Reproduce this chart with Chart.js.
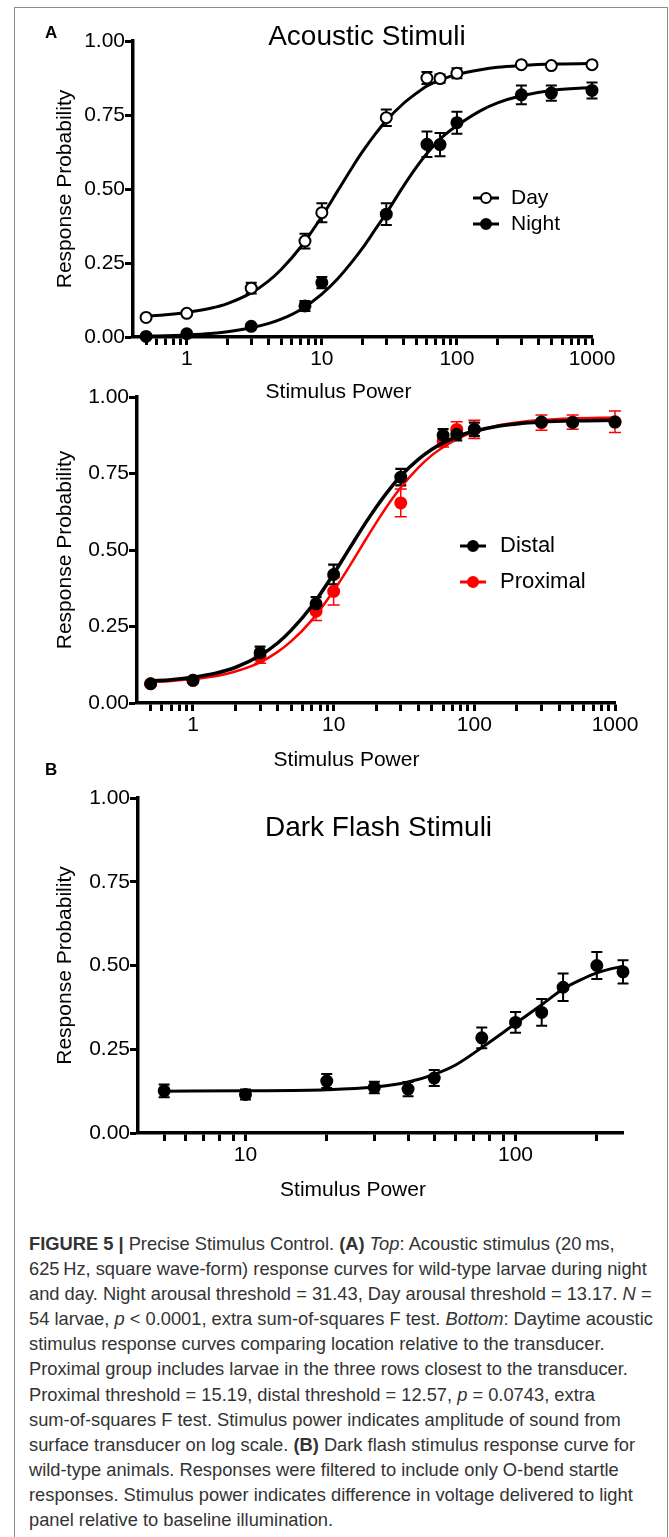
<!DOCTYPE html>
<html>
<head>
<meta charset="utf-8">
<script src="https://cdn.jsdelivr.net/npm/chart.js@4.4.0/dist/chart.umd.min.js"></script>
<style>
html, body { margin: 0; padding: 0; background: #fff; }
body { width: 669px; height: 1537px; position: relative; overflow: hidden; font-family: "Liberation Sans", Arial, Helvetica, sans-serif; }
.frame { position: absolute; left: 14px; top: 7px; width: 652px; height: 1580px; border: 1px solid #8c8c8c; }
canvas { position: absolute; left: 0; }
.panel { position: absolute; font-weight: bold; font-size: 17px; line-height: 17px; color: #000; }
#caption { position: absolute; left: 29px; top: 1231px; }
#caption div { white-space: nowrap; height: 25.1px; line-height: 25.1px; font-size: 18.5px; color: #333; transform-origin: 0 50%; }
</style>
</head>
<body>
<div class="frame"></div>
<canvas id="c1" width="669" height="405" style="top:0px;width:669px;height:405px"></canvas>
<canvas id="c2" width="669" height="411" style="top:360px;width:669px;height:411px"></canvas>
<canvas id="c3" width="669" height="441" style="top:760px;width:669px;height:441px"></canvas>
<div class="panel" style="left:45px;top:24px">A</div>
<div class="panel" style="left:45px;top:761px">B</div>
<div id="caption">
<div><b>FIGURE 5 |</b> Precise Stimulus Control. <b>(A)</b> <i>Top</i>: Acoustic stimulus (20&#8201;ms,</div>
<div>625&#8201;Hz, square wave-form) response curves for wild-type larvae during night</div>
<div>and day. Night arousal threshold = 31.43, Day arousal threshold = 13.17. <i>N</i> =</div>
<div id="widest">54 larvae, <i>p</i> &lt; 0.0001, extra sum-of-squares F test. <i>Bottom</i>: Daytime acoustic</div>
<div>stimulus response curves comparing location relative to the transducer.</div>
<div>Proximal group includes larvae in the three rows closest to the transducer.</div>
<div>Proximal threshold = 15.19, distal threshold = 12.57, <i>p</i> = 0.0743, extra</div>
<div>sum-of-squares F test. Stimulus power indicates amplitude of sound from</div>
<div>surface transducer on log scale. <b>(B)</b> Dark flash stimulus response curve for</div>
<div>wild-type animals. Responses were filtered to include only O-bend startle</div>
<div>responses. Stimulus power indicates difference in voltage delivered to light</div>
<div>panel relative to baseline illumination.</div>
</div>
<script>
// ---------- DATA ----------
// Panel A top: acoustic stimuli, day vs night
const acousticPower = [0.5, 1, 3, 7.5, 10, 30, 60, 75, 100, 300, 500, 1000];
const dayResponse   = [0.066, 0.080, 0.165, 0.324, 0.420, 0.741, 0.875, 0.873, 0.891, 0.920, 0.917, 0.920];
const dayError      = [0.005, 0.006, 0.018, 0.025, 0.032, 0.028, 0.020, 0.014, 0.017, 0.006, 0.005, 0.006];
const nightResponse = [0.002, 0.011, 0.036, 0.105, 0.184, 0.415, 0.651, 0.650, 0.724, 0.818, 0.824, 0.833];
const nightError    = [0.004, 0.004, 0.006, 0.017, 0.019, 0.037, 0.043, 0.039, 0.037, 0.032, 0.026, 0.027];

// fitted curves
const curvePower = [0.5, 0.7, 1, 1.5, 2, 3, 4, 5, 7, 10, 13, 17, 20, 25, 30, 40, 50, 60, 80, 100, 150, 200, 300, 500, 1000];
const dayCurve   = [0.071, 0.075, 0.083, 0.097, 0.113, 0.149, 0.188, 0.228, 0.305, 0.407, 0.491, 0.577, 0.626, 0.687, 0.731, 0.788, 0.823, 0.848, 0.873, 0.887, 0.903, 0.911, 0.917, 0.922, 0.924];
const nightCurve = [0.003, 0.004, 0.007, 0.012, 0.018, 0.031, 0.045, 0.060, 0.093, 0.145, 0.195, 0.258, 0.300, 0.365, 0.418, 0.508, 0.573, 0.620, 0.680, 0.714, 0.765, 0.791, 0.815, 0.833, 0.843];

// Panel A bottom: distal vs proximal
const distalResponse   = [0.063, 0.074, 0.164, 0.324, 0.420, 0.738, 0.875, 0.878, 0.894, 0.918, 0.917, 0.918];
const distalError      = [0.005, 0.005, 0.020, 0.022, 0.032, 0.027, 0.020, 0.020, 0.022, 0.008, 0.008, 0.008];
const proximalResponse = [0.063, 0.074, 0.150, 0.300, 0.365, 0.654, 0.855, 0.894, 0.894, 0.916, 0.918, 0.919];
const proximalError    = [0.004, 0.004, 0.020, 0.030, 0.045, 0.045, 0.018, 0.025, 0.030, 0.025, 0.023, 0.035];
const distalCurve   = [0.072, 0.076, 0.084, 0.099, 0.116, 0.155, 0.196, 0.238, 0.317, 0.422, 0.506, 0.591, 0.639, 0.699, 0.742, 0.796, 0.829, 0.850, 0.875, 0.888, 0.905, 0.912, 0.918, 0.922, 0.924];
const proximalCurve = [0.068, 0.072, 0.078, 0.089, 0.103, 0.133, 0.167, 0.202, 0.271, 0.367, 0.448, 0.536, 0.588, 0.655, 0.704, 0.769, 0.810, 0.836, 0.868, 0.886, 0.908, 0.917, 0.925, 0.930, 0.933];

// Panel B: dark flash
const flashPower    = [5, 10, 20, 30, 40, 50, 75, 100, 125, 150, 200, 250];
const flashResponse = [0.126, 0.115, 0.155, 0.136, 0.131, 0.164, 0.284, 0.330, 0.360, 0.435, 0.500, 0.481];
const flashError    = [0.019, 0.015, 0.021, 0.017, 0.021, 0.024, 0.031, 0.031, 0.040, 0.041, 0.040, 0.035];
const flashCurvePower = [5, 10, 20, 30, 40, 50, 60, 75, 90, 100, 125, 150, 175, 200, 225, 250];
const flashCurve      = [0.125, 0.126, 0.129, 0.137, 0.152, 0.175, 0.203, 0.255, 0.300, 0.327, 0.383, 0.430, 0.458, 0.478, 0.490, 0.497];

// series names
const acousticSeries = ['Day', 'Night'];
const locationSeries = ['Distal', 'Proximal'];

// tick labels
const yTickValues = [0, 0.25, 0.5, 0.75, 1];
const yTickLabels = ['0.00', '0.25', '0.50', '0.75', '1.00'];
const acousticMajorTicks = [1, 10, 100, 1000];
const acousticMinorTicks = [0.5, 0.6, 0.7, 0.8, 0.9, 2, 3, 4, 5, 6, 7, 8, 9, 20, 30, 40, 50, 60, 70, 80, 90, 200, 300, 400, 500, 600, 700, 800, 900];
const flashMajorTicks = [10, 100];
const flashMinorTicks = [5, 6, 7, 8, 9, 20, 30, 40, 50, 60, 70, 80, 90, 200];

// ---------- RENDERING ----------
const FONT = '"Liberation Sans", Arial, Helvetica, sans-serif';
const pts = (xs, ys) => xs.map((x, i) => ({ x: x, y: ys[i] }));

const errorBarPlugin = {
  id: 'errorBars',
  beforeDatasetsDraw(chart) {
    const { ctx } = chart;
    const xs = chart.scales.x, ys = chart.scales.y;
    const list = chart.data.datasets.slice().reverse();
    list.forEach(ds => {
      if (!ds.errors) return;
      ctx.save();
      ctx.strokeStyle = ds.errorColor || '#000';
      ctx.lineWidth = ds.errorWidth || 2;
      const cap = ds.capHalf || 5.5;
      ds.data.forEach((p, i) => {
        const e = ds.errors[i];
        if (!e) return;
        const px = xs.getPixelForValue(p.x);
        const top = ys.getPixelForValue(p.y + e);
        const bot = ys.getPixelForValue(p.y - e);
        ctx.beginPath();
        ctx.moveTo(px, top); ctx.lineTo(px, bot);
        ctx.moveTo(px - cap, top); ctx.lineTo(px + cap, top);
        ctx.moveTo(px - cap, bot); ctx.lineTo(px + cap, bot);
        ctx.stroke();
      });
      ctx.restore();
    });
  }
};

const annotatePlugin = {
  id: 'annotate',
  afterDraw(chart, args, opts) {
    const ctx = chart.ctx;
    ctx.save();
    (opts.texts || []).forEach(t => {
      ctx.font = t.size + 'px ' + FONT;
      ctx.fillStyle = '#000';
      ctx.textAlign = 'center';
      ctx.textBaseline = 'middle';
      ctx.fillText(t.text, t.x, t.y);
    });
    (opts.legend || []).forEach(it => {
      ctx.strokeStyle = it.color;
      ctx.lineWidth = 3;
      ctx.beginPath(); ctx.moveTo(it.x, it.y); ctx.lineTo(it.x + 26, it.y); ctx.stroke();
      ctx.beginPath(); ctx.arc(it.x + 13, it.y, 5, 0, Math.PI * 2);
      ctx.fillStyle = it.fill; ctx.fill();
      ctx.lineWidth = 2; ctx.stroke();
      ctx.fillStyle = '#000';
      ctx.textAlign = 'left';
      ctx.textBaseline = 'middle';
      ctx.font = it.size + 'px ' + FONT;
      ctx.fillText(it.text, it.textX, it.y);
    });
    ctx.restore();
  }
};

function pointSet(label, xs, ys, errs, fill, stroke, radius, order, errColor, errWidth, capHalf) {
  return {
    label: label, data: pts(xs, ys), showLine: false,
    pointRadius: radius, pointHoverRadius: radius,
    pointBackgroundColor: fill, pointBorderColor: stroke, pointBorderWidth: 2,
    borderColor: stroke, errors: errs, errorColor: errColor, errorWidth: errWidth, capHalf: capHalf,
    order: order, clip: false
  };
}
function curveSet(label, xs, ys, color, width, order) {
  return {
    label: label, data: pts(xs, ys), pointRadius: 0, pointHoverRadius: 0,
    borderColor: color, borderWidth: width, cubicInterpolationMode: 'monotone',
    fill: false, order: order, clip: false
  };
}

function buildChart(id, o) {
  const allTicks = o.minor.concat(o.major).sort((a, b) => a - b);
  return new Chart(document.getElementById(id), {
    type: 'line',
    data: { datasets: o.datasets },
    options: {
      responsive: false, animation: false, devicePixelRatio: 1,
      events: [],
      layout: { autoPadding: false, padding: o.padding },
      plugins: {
        legend: { display: false }, tooltip: { enabled: false }, title: { display: false },
        annotate: { texts: o.texts, legend: o.legend }
      },
      scales: {
        x: {
          type: 'logarithmic', min: o.xmin, max: o.xmax,
          afterBuildTicks: s => { s.ticks = allTicks.map(v => ({ value: v, major: false })); },
          ticks: {
            autoSkip: false, maxRotation: 0, minRotation: 0, padding: 1.5, color: '#000',
            font: { family: FONT, size: 21 },
            callback: v => (o.major.indexOf(v) >= 0 ? String(v) : '')
          },
          grid: { drawOnChartArea: false, drawTicks: true, tickLength: 8, tickWidth: 3, tickColor: '#000' },
          border: { display: true, width: 3.5, color: '#000' },
          afterFit: s => { s.height = 68; }
        },
        y: {
          type: 'linear', min: 0, max: 1,
          afterBuildTicks: s => { s.ticks = yTickValues.map(v => ({ value: v })); },
          ticks: {
            padding: 0, color: '#000', font: { family: FONT, size: 21 },
            callback: (v, i) => yTickLabels[i]
          },
          grid: { drawOnChartArea: false, drawTicks: true, tickLength: 8, tickWidth: 3, tickColor: '#000' },
          border: { display: true, width: 3.5, color: '#000' },
          title: { display: true, text: 'Response Probability', color: '#000', font: { family: FONT, size: 21 }, padding: 0 },
          afterFit: s => { s.width = o.yWidth; }
        }
      }
    },
    plugins: [errorBarPlugin, annotatePlugin]
  });
}

// Chart 1 : Acoustic Stimuli (Day / Night)
buildChart('c1', {
  xmin: 0.4, xmax: 1000, major: acousticMajorTicks, minor: acousticMinorTicks,
  padding: { left: 53, top: 41, right: 77, bottom: 0 }, yWidth: 80,
  datasets: [
    pointSet(acousticSeries[0], acousticPower, dayResponse, dayError, '#fff', '#000', 5.5, 1, '#000', 2, 5.5),
    pointSet(acousticSeries[1], acousticPower, nightResponse, nightError, '#000', '#000', 5.5, 1, '#000', 2, 5.5),
    curveSet(acousticSeries[0] + ' fit', curvePower, dayCurve, '#000', 3, 3),
    curveSet(acousticSeries[1] + ' fit', curvePower, nightCurve, '#000', 3, 3)
  ],
  texts: [
    { text: 'Acoustic Stimuli', x: 367, y: 37, size: 28 },
    { text: 'Stimulus Power', x: 338.5, y: 392, size: 21 }
  ],
  legend: [
    { text: acousticSeries[0], x: 473, y: 198, textX: 511, color: '#000', fill: '#fff', size: 21 },
    { text: acousticSeries[1], x: 473, y: 224, textX: 511, color: '#000', fill: '#000', size: 21 }
  ]
});

// Chart 2 : Distal / Proximal
buildChart('c2', {
  xmin: 0.4, xmax: 1000, major: acousticMajorTicks, minor: acousticMinorTicks,
  padding: { left: 53, top: 37, right: 54, bottom: 0 }, yWidth: 84,
  datasets: [
    pointSet(locationSeries[0], acousticPower, distalResponse, distalError, '#000', '#000', 5.5, 1, '#000', 2.2, 5.5),
    curveSet(locationSeries[0] + ' fit', curvePower, distalCurve, '#000', 3.5, 2),
    pointSet(locationSeries[1], acousticPower, proximalResponse, proximalError, '#ff0000', '#ff0000', 5.5, 3, '#ff0000', 1.5, 6),
    curveSet(locationSeries[1] + ' fit', curvePower, proximalCurve, '#ff0000', 2.5, 4)
  ],
  texts: [
    { text: 'Stimulus Power', x: 346.5, y: 400, size: 21 }
  ],
  legend: [
    { text: locationSeries[0], x: 460, y: 186, textX: 500, color: '#000', fill: '#000', size: 22 },
    { text: locationSeries[1], x: 460, y: 222, textX: 500, color: '#ff0000', fill: '#ff0000', size: 22 }
  ]
});

// Chart 3 : Dark Flash Stimuli
buildChart('c3', {
  xmin: 4, xmax: 250, major: flashMajorTicks, minor: flashMinorTicks,
  padding: { left: 53, top: 38, right: 46, bottom: 0 }, yWidth: 85,
  datasets: [
    pointSet('Dark flash', flashPower, flashResponse, flashError, '#000', '#000', 5.5, 1, '#000', 2, 5.5),
    curveSet('Dark flash fit', flashCurvePower, flashCurve, '#000', 3, 2)
  ],
  texts: [
    { text: 'Dark Flash Stimuli', x: 378.5, y: 68, size: 28 },
    { text: 'Stimulus Power', x: 353, y: 430, size: 21 }
  ],
  legend: []
});

// fit caption lines to the original measure
(function fitCaption() {
  const widest = document.getElementById('widest');
  const w = widest.scrollWidth;
  const k = w > 0 ? 624 / w : 1;
  document.querySelectorAll('#caption div').forEach(d => { d.style.transform = 'scaleX(' + k + ')'; });
})();
</script>
</body>
</html>
